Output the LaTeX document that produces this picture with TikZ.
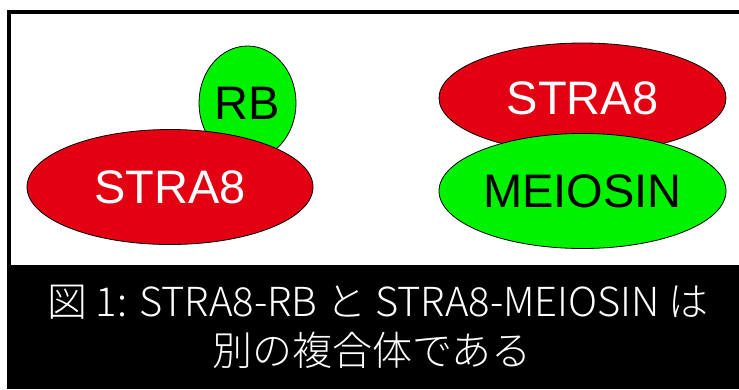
\documentclass[tikz,border=0pt]{standalone}
\usepackage{fontspec}
\setmainfont{Liberation Sans}
\newfontfamily\jpfont{Noto Sans CJK JP Light}
\usetikzlibrary{shapes.geometric}
\definecolor{protred}{RGB}{226,0,18}
\definecolor{protgreen}{RGB}{0,242,0}
\tikzset{
  prot/.style={ellipse, draw=black, line width=0.8bp, inner sep=0pt,
    font=\fontsize{47bp}{50bp}\selectfont},
  redprot/.style={prot, fill=protred, text=white},
  greenprot/.style={prot, fill=protgreen, text=black},
  caption/.style={text=white, inner sep=0pt, anchor=base,
    font=\jpfont\fontsize{40bp}{46bp}\selectfont}
}
\begin{document}
\begin{tikzpicture}[x=1bp, y=-1bp]
\useasboundingbox (0,0) rectangle (739,389);
\fill[white] (0,0) rectangle (739,389);
% frame
\draw[line width=3.5bp] (745,12) -- (9,12) -- (9,266);
% caption band
\fill[black] (7,265) rectangle (739,389);
% left complex
\node[greenprot, minimum width=97bp, minimum height=114bp] (rb) at (247.5,103) {RB};
\node[redprot, minimum width=286bp, minimum height=115bp] (stra8a) at (170,187) {STRA8};
% right complex
\node[redprot, minimum width=287bp, minimum height=110bp] (stra8b) at (582.5,98) {STRA8};
\node[greenprot, minimum width=287bp, minimum height=115bp] (meiosin) at (582.5,191) {MEIOSIN};
% caption
\node[caption] (cap1) at (378,316) {図 1: STRA8-RB と STRA8-MEIOSIN は};
\node[caption] (cap2) at (372,365) {別の複合体である};
\end{tikzpicture}
\end{document}
